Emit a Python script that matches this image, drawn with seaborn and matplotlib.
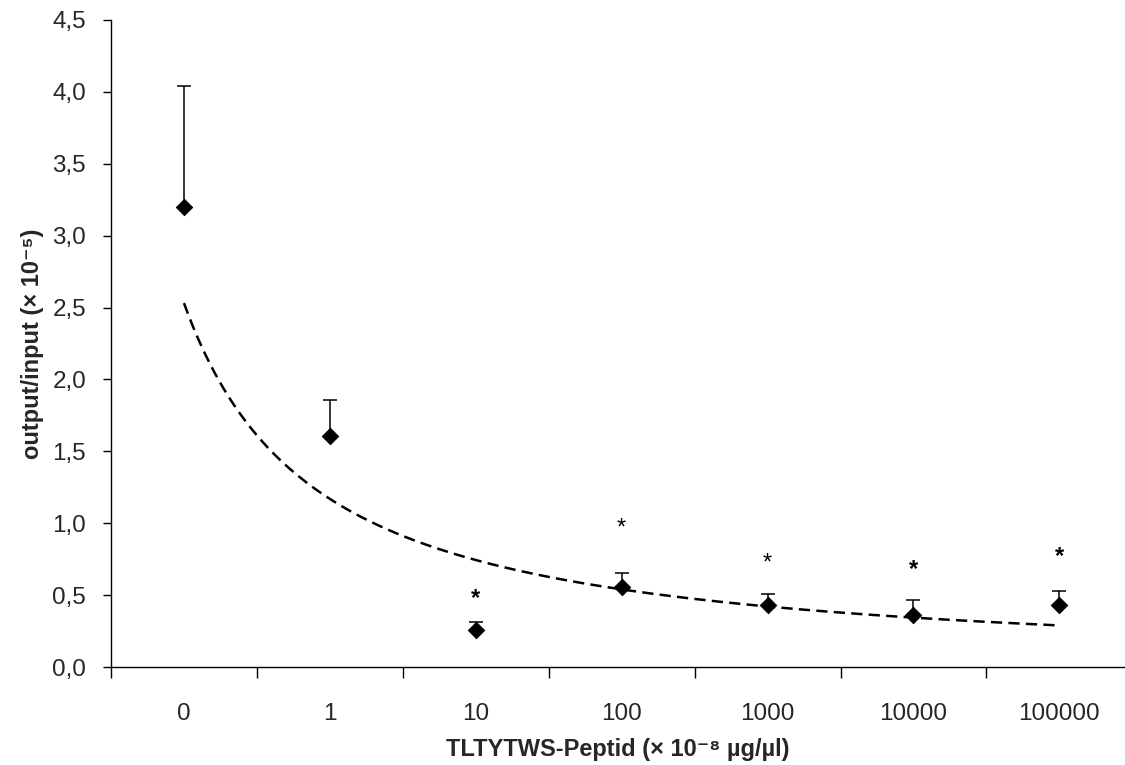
import numpy as np
import pandas as pd
import matplotlib
matplotlib.use('Agg')
import matplotlib.pyplot as plt
from matplotlib.ticker import FuncFormatter, FixedLocator
import seaborn as sns

# values
concentrations = ['0', '1', '10', '100', '1000', '10000', '100000']
mean_ratio = [3.20, 1.61, 0.26, 0.56, 0.43, 0.36, 0.43]
upper_error = [4.04, 1.86, 0.31, 0.654, 0.51, 0.466, 0.53]
star_height = [None, None, 0.48, 0.96, 0.72, 0.68, 0.77]
star_bold = [False, False, True, False, False, True, True]

sns.set_style('ticks')
plt.rcParams['font.family'] = ['Liberation Sans', 'DejaVu Sans']

pos = np.arange(len(concentrations))
df = pd.DataFrame({'pos': pos, 'mean': mean_ratio, 'upper': upper_error})

# power trend (Excel style) fitted on x = 1..n
xfit = pos + 1
b, ln_a = np.polyfit(np.log(xfit), np.log(df['mean']), 1)
xs = np.linspace(1, len(concentrations), 200)
trend = pd.DataFrame({'pos': xs - 1, 'y': np.exp(ln_a) * xs ** b})

fig, ax = plt.subplots(figsize=(11.25, 7.65), dpi=100)
fig.subplots_adjust(left=0.0987, right=1.0, top=0.974, bottom=0.128)

sns.lineplot(data=trend, x='pos', y='y', ax=ax, color='black', lw=1.8,
             linestyle=(0, (4.5, 2.5)))
ax.errorbar(df['pos'], df['mean'],
            yerr=[np.zeros(len(df)), df['upper'] - df['mean']],
            fmt='none', ecolor='black', elinewidth=1.1, capsize=5, capthick=1.1)
sns.scatterplot(data=df, x='pos', y='mean', ax=ax, marker='D', s=70,
                color='black', edgecolor='black', zorder=5)

for p, h, bold in zip(pos, star_height, star_bold):
    if h is not None:
        ax.text(p, h, '*', ha='center', va='center', fontsize=17,
                fontweight='bold' if bold else 'normal', color='black')

ax.set_xlim(-0.5, 6.45)
ax.set_ylim(0, 4.5)
ax.set_yticks(np.arange(0, 4.51, 0.5))
ax.yaxis.set_major_formatter(FuncFormatter(lambda v, _: f'{v:.1f}'.replace('.', ',')))
ax.set_xticks(pos)
ax.set_xticklabels(concentrations)
ax.xaxis.set_minor_locator(FixedLocator(np.arange(-0.5, 6.0, 1.0)))
ax.tick_params(axis='x', which='major', length=0, pad=26, labelsize=17.5)
ax.tick_params(axis='x', which='minor', length=8, width=1, color='black')
ax.tick_params(axis='y', length=6, width=1, color='black', labelsize=17.5, pad=12)

ax.set_xlabel('TLTYTWS-Peptid (× 10⁻⁸ µg/µl)', fontsize=17, fontweight='bold', labelpad=9)
ax.set_ylabel('output/input (× 10⁻⁵)', fontsize=17, fontweight='bold', labelpad=6)

sns.despine(ax=ax)
for sp in ['left', 'bottom']:
    ax.spines[sp].set_color('black')
    ax.spines[sp].set_linewidth(1)

fig.savefig('out.png', dpi=100)
